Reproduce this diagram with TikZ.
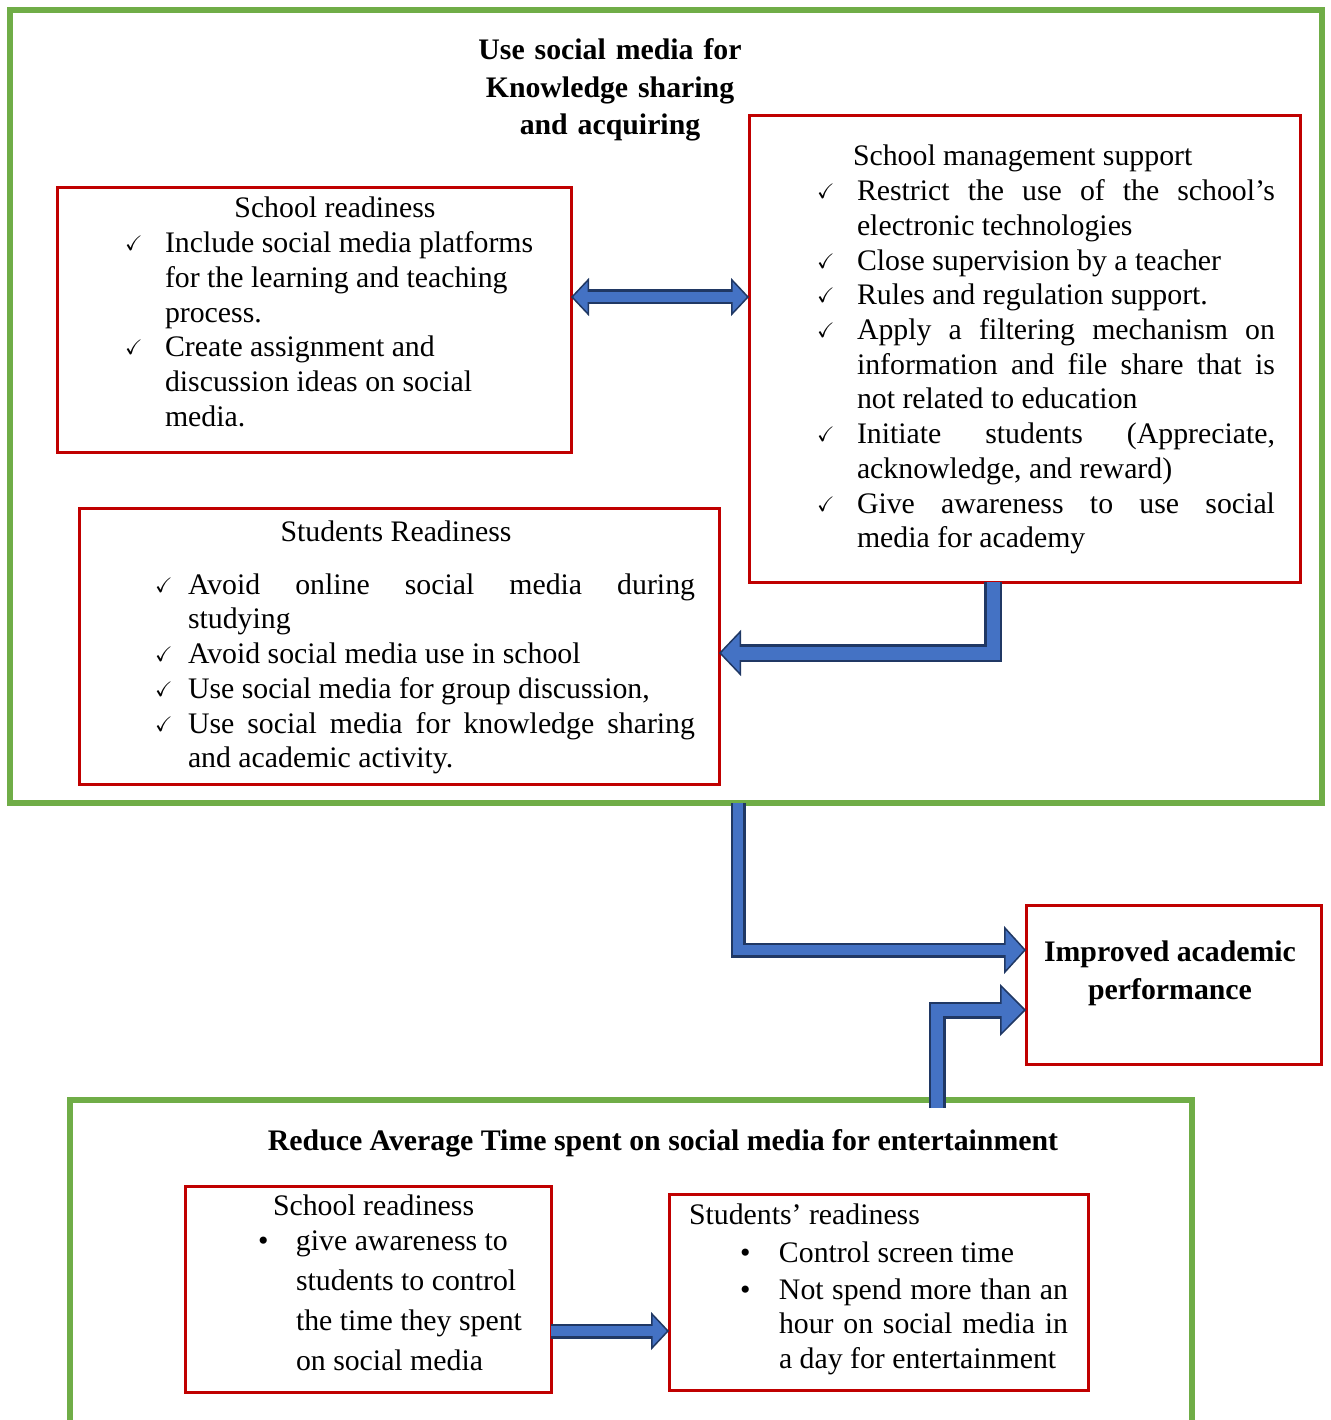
\documentclass[tikz,border=0pt]{standalone}
\usepackage{amssymb}
\usepackage{fontspec}
\setmainfont{Liberation Serif}
\usetikzlibrary{arrows.meta,positioning}
\usepackage{xcolor}
\definecolor{frameGreen}{HTML}{70AD47}
\definecolor{boxRed}{HTML}{C00000}
\definecolor{arrowBlue}{HTML}{4472C4}
\definecolor{arrowEdge}{HTML}{203864}

\newcommand{\bodyfont}{\fontsize{29.8}{34.7}\selectfont}
\newcommand{\titlefont}{\fontsize{29.8}{37.5}\selectfont\bfseries}
\newcommand{\smallcheck}{{\fontsize{21}{21}\selectfont\raisebox{2pt}{$\checkmark$}}}
\newlength{\tickL}\newlength{\tickR}\newlength{\tickW}
% box contents: width, height, text
\newcommand{\boxtext}[3]{\begin{minipage}[c][#2][t]{#1}#3\end{minipage}}
% centred heading between two margins
\newcommand{\hd}[3]{\par\leftskip=#1 plus 1fil\rightskip=#2 plus 1fil\parfillskip=0pt\noindent\rule{0pt}{22pt}#3\par}
% heading flush left at an indent
\newcommand{\hdl}[2]{\par\leftskip=#1\rightskip=0pt plus 1fil\parfillskip=0pt plus 1fil\noindent\rule{0pt}{22pt}#2\par}
% one list entry with its mark
\newcommand{\tk}[2][\smallcheck]{\par\leftskip=\tickL\rightskip=\tickR\parfillskip=0pt plus 1fil\noindent\llap{\makebox[\tickW][l]{#1}}#2\par}

\begin{document}
\begin{tikzpicture}[
    x=1pt, y=-1pt,
    greenframe/.style={draw=frameGreen, line width=6pt, inner sep=0pt, outer sep=0pt},
    redbox/.style={draw=boxRed, line width=3pt, inner sep=0pt, outer sep=0pt, anchor=north west, font=\bodyfont},
    heading/.style={inner sep=0pt, anchor=base, font=\titlefont},
    shaft/.style={line width=#1, draw=arrowEdge},
    core/.style={line width=#1, draw=arrowBlue},
    tipend/.style 2 args={arrows=-{Triangle[width=#1,length=#2,fill=arrowBlue,line width=1.5pt]}},
    tipboth/.style 2 args={arrows={Triangle[width=#1,length=#2,fill=arrowBlue,line width=1.5pt]}-{Triangle[width=#1,length=#2,fill=arrowBlue,line width=1.5pt]}}
]
\useasboundingbox (0,0) rectangle (1330,1420);

% Frames
\node[greenframe, minimum width=1312pt, minimum height=793pt, anchor=north west] (useframe) at (10,10) {};
\node[heading, text width=400pt, align=center] (usetitle) at (610,60) {Use social media for\\ Knowledge sharing\\ and acquiring};
\draw[greenframe] (70,1420) |- (1192,1100) -- (1192,1420);
\node[heading] (reducetitle) at (663,1150) {Reduce Average Time spent on social media for entertainment};
\coordinate (reducetop) at (937,1108);

% Nodes
\node[redbox] (schoolA) at (57,188) {\boxtext{514pt}{264pt}{%
  \vspace*{8pt}
  \hd{68pt}{26pt}{School readiness}
  \setlength{\tickL}{108pt}\setlength{\tickR}{26pt}\setlength{\tickW}{40pt}
  \tk{Include social media platforms\\ for the learning and teaching\\ process.}
  \tk{Create assignment and\\ discussion ideas on social\\ media.}}};

\node[redbox] (mgmt) at (749,116) {\boxtext{551pt}{466pt}{%
  \vspace*{28pt}
  \hdl{104pt}{School management support}
  \setlength{\tickL}{108pt}\setlength{\tickR}{25pt}\setlength{\tickW}{40pt}
  \tk{Restrict the use of the school’s\linebreak electronic technologies}
  \tk{Close supervision by a teacher}
  \tk{Rules and regulation support.}
  \tk{Apply a filtering mechanism on\linebreak information and file share that is\linebreak not related to education}
  \tk{Initiate students (Appreciate,\linebreak acknowledge, and reward)}
  \tk{Give awareness to use social\linebreak media for academy}}};

\node[redbox] (studA) at (79,508) {\boxtext{640pt}{276pt}{%
  \vspace*{11pt}
  \hd{0pt}{6pt}{Students Readiness}
  \vspace{18.5pt}
  \setlength{\tickL}{109pt}\setlength{\tickR}{24pt}\setlength{\tickW}{33pt}
  \tk{Avoid online social media during\linebreak studying}
  \tk{Avoid social media use in school}
  \tk{Use social media for group discussion,}
  \tk{Use social media for knowledge sharing\linebreak and academic activity.}}};

\node[redbox] (improved) at (1026,905) {\boxtext{295pt}{159pt}{%
  \titlefont\baselineskip=38pt
  \vspace*{34pt}
  \hd{0pt}{7pt}{Improved academic\par performance}}};

\node[redbox] (schoolB) at (185,1186) {\boxtext{366pt}{206pt}{%
  \baselineskip=40pt
  \vspace*{7pt}
  \hdl{88pt}{School readiness}
  \vspace{-5pt}
  \setlength{\tickL}{111pt}\setlength{\tickR}{0pt}\setlength{\tickW}{38pt}
  \tk[\textbullet]{give awareness to\\ students to control\\ the time they spent\\ on social media}}};

\node[redbox] (studB) at (669,1194) {\boxtext{419pt}{196pt}{%
  \baselineskip=34.5pt
  \vspace*{8pt}
  \hdl{20pt}{Students’ readiness}
  \vspace{3.5pt}
  \setlength{\tickL}{110pt}\setlength{\tickR}{20pt}\setlength{\tickW}{39pt}
  \tk[\textbullet]{Control screen time}
  \vspace{2.5pt}
  \tk[\textbullet]{Not spend more than an\linebreak hour on social media in\linebreak a day for entertainment}}};

% Arrows
\draw[shaft=15pt, tipboth={38pt}{18pt}] ([yshift=23pt]schoolA.east) -- ([yshift=52pt]mgmt.west);
\draw[core=10.5pt, shorten <=14pt, shorten >=14pt] ([yshift=23pt]schoolA.east) -- ([yshift=52pt]mgmt.west);

\draw[shaft=18pt, tipend={46pt}{22pt}] ([xshift=-31.5pt]mgmt.south) |- ([yshift=-7pt]studA.east);
\draw[core=13pt, shorten >=18pt] ([xshift=-31.5pt]mgmt.south) |- ([yshift=-7pt]studA.east);

\draw[shaft=15pt, tipend={48pt}{22pt}] ([xshift=72pt]useframe.south) |- ([yshift=34.5pt]improved.west);
\draw[core=10.5pt, shorten >=18pt] ([xshift=72pt]useframe.south) |- ([yshift=34.5pt]improved.west);

\draw[shaft=17pt, tipend={52pt}{26pt}] (reducetop) |- ([yshift=-25.5pt]improved.west);
\draw[core=12pt, shorten >=22pt] (reducetop) |- ([yshift=-25.5pt]improved.west);

\coordinate (barrow) at ([yshift=-42pt]schoolB.east);
\draw[shaft=15pt, tipend={38pt}{18pt}] (barrow) -- (barrow -| studB.west);
\draw[core=10.5pt, shorten >=14pt] (barrow) -- (barrow -| studB.west);

\end{tikzpicture}
\end{document}
